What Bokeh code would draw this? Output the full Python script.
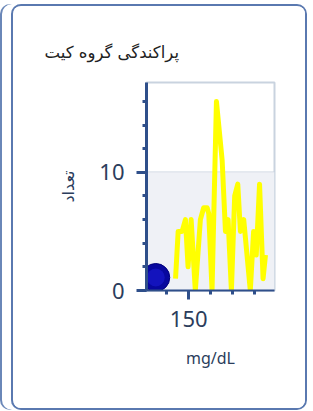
from bokeh.plotting import figure
from bokeh.models import Range1d, SingleIntervalTicker, BoxAnnotation, FixedTicker
from bokeh.embed import file_html
from bokeh.resources import INLINE

# data
glucose = [144, 145.2, 147, 148.5, 149.7, 151.1, 153, 155.3, 156.8, 158.4, 159.1, 160.6,
           162.6, 165.2, 166.7, 167.9, 169.4, 170.9, 172.3, 173.5, 175, 178, 179.5,
           180.7, 182.2, 183.8, 184.9]
counts = [1, 5, 5, 6, 2, 6, 0, 6, 7, 7, 6.5, 0, 16, 11, 5, 6, 0, 8, 9, 5, 6, 0, 5, 3, 9, 1, 3]
point_x = [135]
point_y = [1.1]
title_text = "پراکندگی گروه کیت"
y_label = "تعداد"
x_label = "mg/dL"

p = figure(width=296, height=406, output_backend="svg", toolbar_location=None,
           x_range=Range1d(130.8, 189.0), y_range=Range1d(0, 17.6),
           min_border_left=133, min_border_right=35, min_border_top=76, min_border_bottom=122,
           title=title_text,
           styles={"border": "2px solid #5a79b0", "border-radius": "10px",
                   "margin-left": "11px", "margin-top": "4px", "overflow": "hidden",
                   "box-shadow": "-9px 0 0 0 #ffffff, -11px 0 0 0 #6a87b8"})

p.background_fill_color = "white"
p.border_fill_color = "white"
p.outline_line_color = "#c9d3df"
p.outline_line_width = 2

p.title.text_font = "DejaVu Sans"
p.title.text_font_size = "16.5px"
p.title.text_font_style = "normal"
p.title.text_color = "#222222"
p.title.align = "left"
p.title.offset = -102
p.title.standoff = 42

band = BoxAnnotation(bottom=0, top=10, fill_color="#eff1f6", fill_alpha=1.0, line_alpha=0, level="underlay")
p.add_layout(band)

p.xgrid.visible = False
p.ygrid.ticker = FixedTicker(ticks=[10])
p.ygrid.grid_line_color = "#c9d3df"
p.ygrid.grid_line_width = 2

axis_color = "#2f4f8a"
label_color = "#2b3d5c"

p.yaxis.ticker = SingleIntervalTicker(interval=10, num_minor_ticks=5)
p.xaxis.ticker = SingleIntervalTicker(interval=50, num_minor_ticks=5)

for ax in (p.xaxis[0], p.yaxis[0]):
    ax.axis_line_color = axis_color
    ax.major_tick_line_color = axis_color
    ax.minor_tick_line_color = axis_color
    ax.major_tick_line_width = 3
    ax.minor_tick_line_width = 3
    ax.major_tick_in = 0
    ax.minor_tick_in = 0
    ax.major_tick_out = 10
    ax.minor_tick_out = 4
    ax.major_label_text_font = "Noto Sans"
    ax.major_label_text_font_size = "22px"
    ax.major_label_text_color = label_color
    ax.axis_label_text_color = label_color
    ax.axis_label_text_font_style = "normal"

p.yaxis.axis_line_width = 3
p.xaxis.axis_line_width = 2
p.xaxis.major_tick_out = 9
p.yaxis.major_label_standoff = 12
p.xaxis.major_label_standoff = 11

p.yaxis.axis_label = y_label
p.yaxis.axis_label_text_font = "DejaVu Sans"
p.yaxis.axis_label_text_font_size = "16px"
p.yaxis.axis_label_standoff = 18

p.xaxis.axis_label = x_label
p.xaxis.axis_label_text_font = "Noto Sans"
p.xaxis.axis_label_text_font_size = "16px"
p.xaxis.axis_label_standoff = 17

p.line(glucose, counts, line_color="#ffff00", line_width=5, line_join="round")

p.scatter(point_x, point_y, size=28, fill_color="#08089e", line_color="#00007a", line_width=1)
p.scatter(point_x, point_y, size=18, fill_color="#1616c4", line_alpha=0, fill_alpha=0.8)

open("out.html", "w").write(file_html(p, INLINE))
